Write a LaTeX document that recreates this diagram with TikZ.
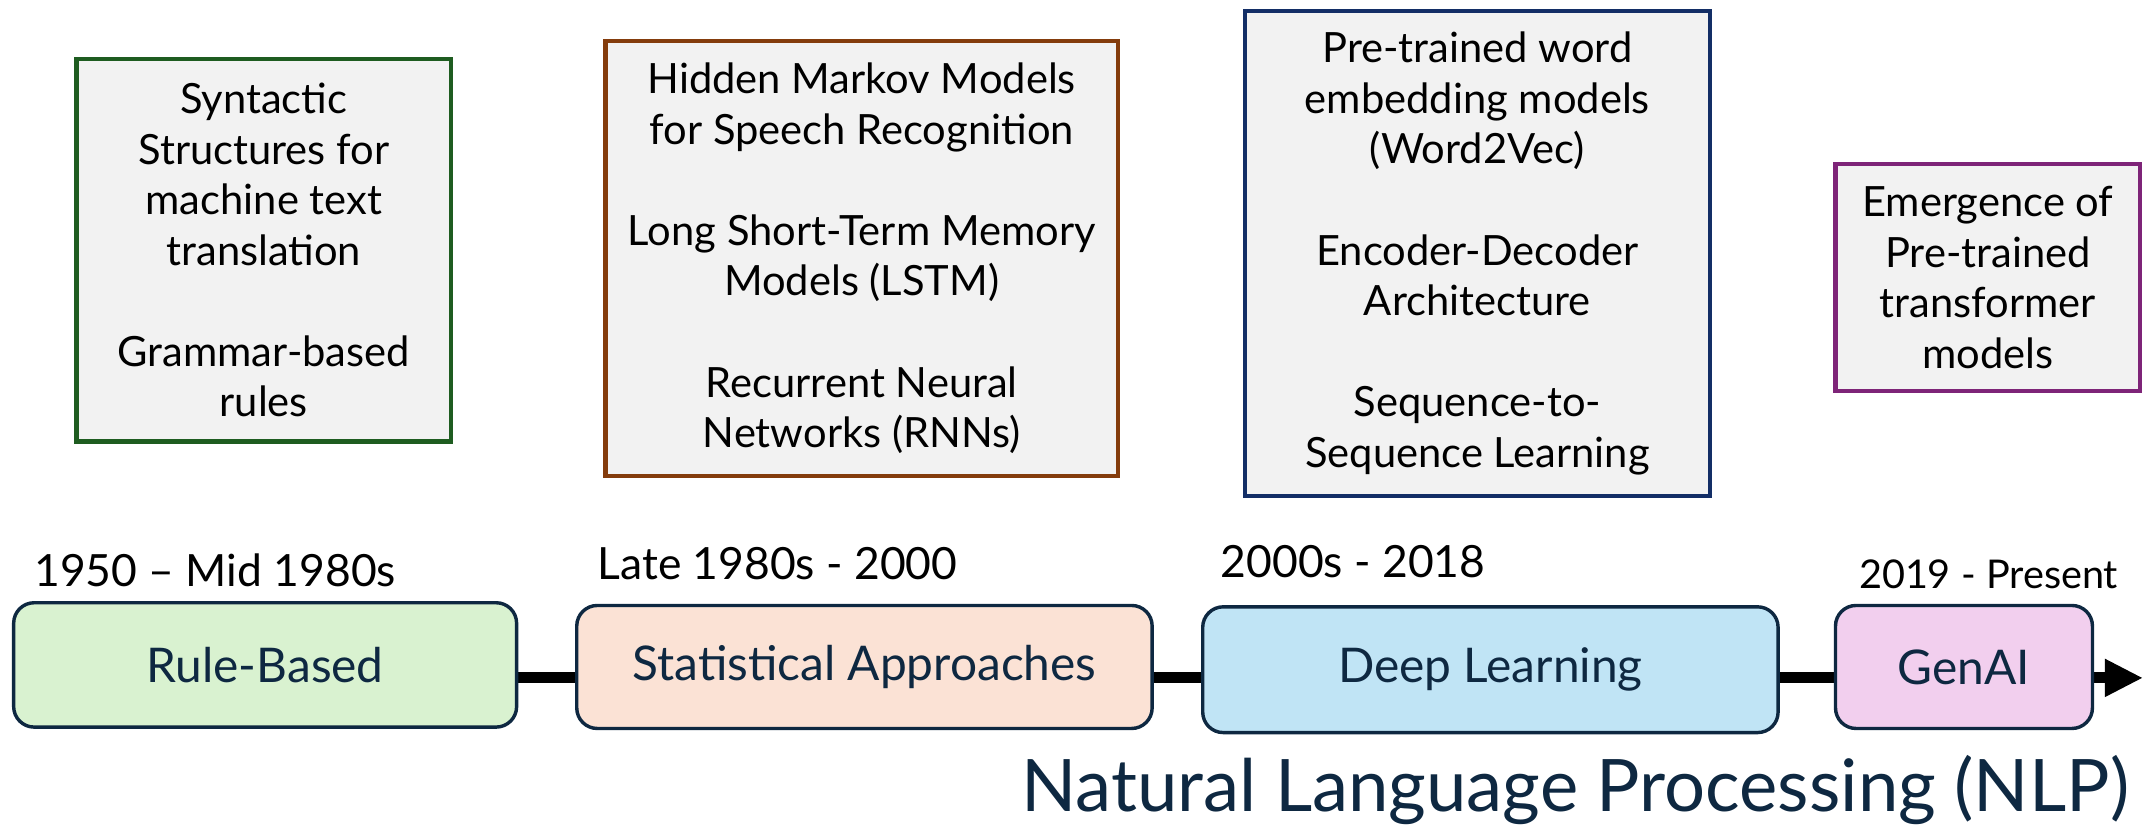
\documentclass[tikz,border=0pt]{standalone}
\usepackage{fontspec}
\setmainfont{Lato}
\usetikzlibrary{arrows.meta,backgrounds}
\definecolor{boxgray}{HTML}{F2F2F2}
\definecolor{bgreen}{HTML}{1E5C20}
\definecolor{bbrown}{HTML}{843C0C}
\definecolor{bnavy}{HTML}{132E66}
\definecolor{bpurple}{HTML}{7E2478}
\definecolor{darknavy}{HTML}{0E2841}
\definecolor{fgreen}{HTML}{D9F2D0}
\definecolor{fpeach}{HTML}{FBE2D5}
\definecolor{fblue}{HTML}{C0E4F5}
\definecolor{fpink}{HTML}{F2CFEE}
\tikzset{
  topbox/.style={draw, fill=boxgray, line width=3pt, align=center, inner sep=0pt,
    font=\fontsize{30.5}{37}\selectfont, text=black},
  erabox/.style={draw=darknavy, line width=2.5pt, rounded corners=15pt, inner sep=0pt,
    font=\fontsize{35}{40}\selectfont, text=darknavy},
  datelabel/.style={anchor=west, inner sep=0pt, font=\fontsize{32.5}{38}\selectfont, text=black},
  timeline/.style={line width=8pt, draw=black}
}
\begin{document}
\begin{tikzpicture}[x=1pt,y=-1pt]
\useasboundingbox (0,0) rectangle (1568,606);
% top boxes
\node[topbox, draw=bgreen, minimum width=274pt, minimum height=280pt] (g) at (193,183)
  {Syntactic\\Structures for\\machine text\\translation\\[37pt]Grammar-based\\rules};
\node[topbox, draw=bbrown, minimum width=375pt, minimum height=318pt] (br) at (630.5,189)
  {Hidden Markov Models\\for Speech Recognition\\[37pt]Long Short-Term Memory\\Models (LSTM)\\[37pt]Recurrent Neural\\Networks (RNNs)};
\node[topbox, draw=bnavy, minimum width=340pt, minimum height=355pt] (nv) at (1081,185.5)
  {Pre-trained word\\embedding models\\(Word2Vec)\\[37pt]Encoder-Decoder\\Architecture\\[37pt]Sequence-to-\\Sequence Learning};
\node[topbox, draw=bpurple, minimum width=223pt, minimum height=166pt] (pu) at (1454.5,203)
  {Emergence of\\Pre-trained\\transformer\\models};
% era boxes
\node[erabox, fill=fgreen, minimum width=368pt, minimum height=91pt] (rb) at (194,486.5) {Rule-Based};
\node[erabox, fill=fpeach, minimum width=421pt, minimum height=90pt] (sa) at (632.5,488) {Statistical Approaches};
\node[erabox, fill=fblue, minimum width=421pt, minimum height=92pt] (dl) at (1090.5,490) {Deep Learning};
\node[erabox, fill=fpink, minimum width=188pt, minimum height=90pt] (gen) at (1437,488) {GenAI};
% timeline
\coordinate (tend) at (1568,496);
\begin{scope}[on background layer]
\draw[timeline, -{Triangle[length=28pt,width=26pt]}] (rb.east |- tend) -- (tend);
\end{scope}
% date labels
\node[datelabel] (d1) at (25,417) {1950 – Mid 1980s};
\node[datelabel] (d2) at (437,412) {Late 1980s - 2000};
\node[datelabel] (d3) at (893,411) {2000s - 2018};
\node[datelabel, font=\fontsize{29}{34}\selectfont] (d4) at (1360,420) {2019 - Present};
% title
\node[anchor=east, inner sep=0pt, font=\fontsize{53}{62}\selectfont, text=darknavy] (title) at (1558,578)
  {Natural Language Processing (NLP)};
\end{tikzpicture}
\end{document}
